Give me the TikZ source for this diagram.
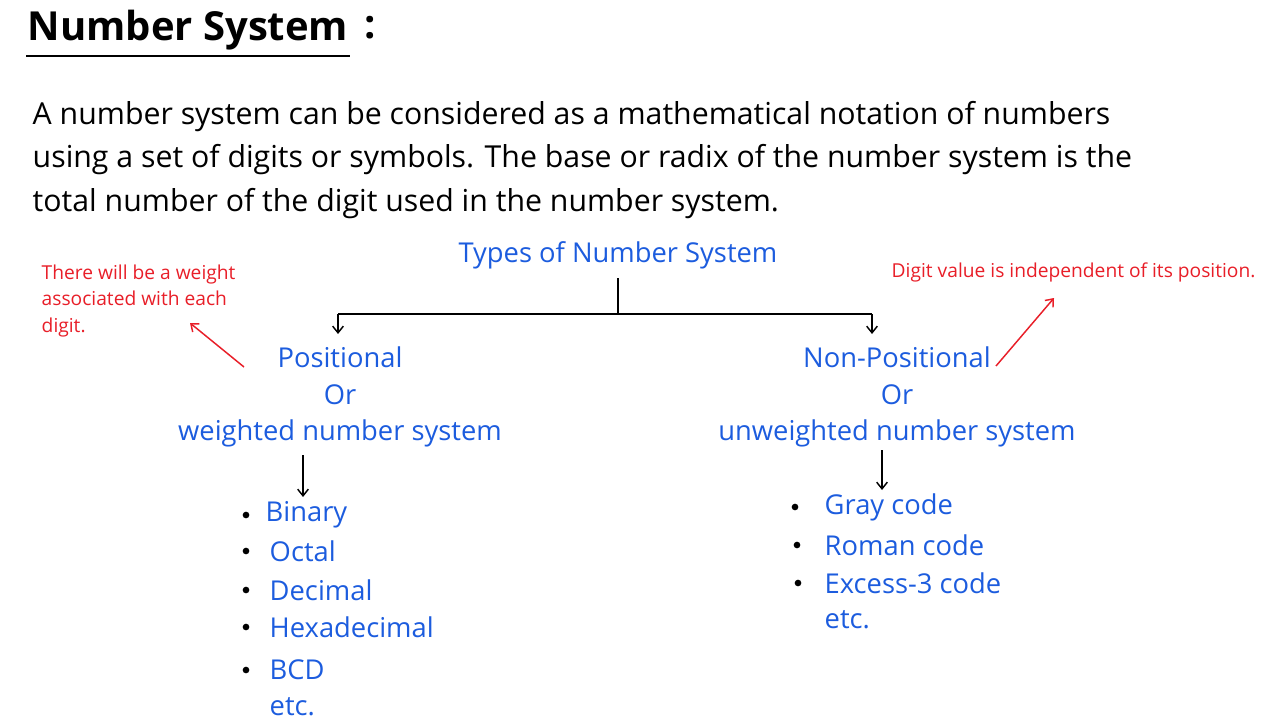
\documentclass[tikz,border=0pt]{standalone}
\usepackage{fontspec}
\setmainfont{Open Sans}
\usetikzlibrary{arrows.meta}

\definecolor{inkblue}{RGB}{28,92,222}
\definecolor{inkred}{RGB}{232,30,40}

\tikzset{every picture/.style={line width=1.1pt}}
\tikzset{
  bluetxt/.style={text=inkblue,inner sep=0.75pt,font=\fontsize{20.5}{27.4}\selectfont},
  redtxt/.style={text=inkred,inner sep=0.75pt,font=\fontsize{14.4}{20}\selectfont},
  dot/.style={circle,fill=black,inner sep=0pt,minimum size=5pt},
  tip/.style={-{Straight Barb[length=5pt,width=8pt]}},
}

\begin{document}
\begin{tikzpicture}[x=0.75pt,y=0.75pt,yscale=-1,xscale=1]
\useasboundingbox (0,0) rectangle (1280,720);

% Title
\node (title) [anchor=west,inner sep=0.75pt,font=\fontsize{30}{34}\bfseries] at (26,30) {Number System};
\node (colon) [anchor=west,inner sep=0.75pt,font=\fontsize{30}{34}\bfseries] at (363,28) {:};
\draw [line width=1.5] (26,56) -- (350,56) ;

% Text Node
\node (intro) [anchor=north west,align=left,inner sep=0.75pt,font=\fontsize{22.7}{32.3}\selectfont] at (31,100) {A number system can be considered as a mathematical notation of numbers\\using a set of digits or symbols. The base or radix of the number system is the\\total number of the digit used in the number system.};

% Text Node
\node (types) [bluetxt] at (618,255) {Types of Number System};
\node (pos) [bluetxt,align=center] at (340,397) {Positional\\Or\\weighted number system};
\node (npos) [bluetxt,align=center] at (897,397) {Non-Positional\\Or\\unweighted number system};

%Straight Lines
\coordinate (fork) at (618,314);
\coordinate (lft) at (338,314);
\coordinate (rgt) at (872,314);
\draw (types.south) ++(0,8) -- (fork) ;
\draw (lft) -- (rgt) ;
\draw [tip] (lft) -- (338,334) ;
\draw [tip] (rgt) -- (872,334) ;

% Red notes
\node (wnote) [redtxt,anchor=north west,align=left] at (40,263) {There will be a weight\\associated with each\\digit.};
\node (unote) [redtxt,anchor=west] at (890,272) {Digit value is independent of its position.};
\coordinate (wfrom) at (244,367);
\coordinate (ufrom) at (996,366);
\draw [inkred,tip] (wfrom) -- (190,323) ;
\draw [inkred,tip] (ufrom) -- (1054,298) ;

%Straight Lines
\draw [tip] (303,455) -- (303,497) ;
\draw [tip] (882,450) -- (882,490) ;

% Left list
\foreach \y/\x/\t [count=\i] in {515/264/Binary,551/268/Octal,590/268/Decimal,627/268/Hexadecimal,670/268/BCD}
  {\node (ldot\i) [dot] at (246,\y) {};
   \node (litem\i) [bluetxt,anchor=west] at (\x,\y) {\t};}
\node (letc) [bluetxt,anchor=west] at (268,707) {etc.};

% Right list
\foreach \y/\x/\t [count=\i] in {507/795/Gray code,545/797/Roman code,583/798/Excess-3 code}
  {\node (rdot\i) [dot] at (\x,\y) {};
   \node (ritem\i) [bluetxt,anchor=west] at (823,\y) {\t};}
\node (retc) [bluetxt,anchor=west] at (823,620) {etc.};

\end{tikzpicture}
\end{document}
